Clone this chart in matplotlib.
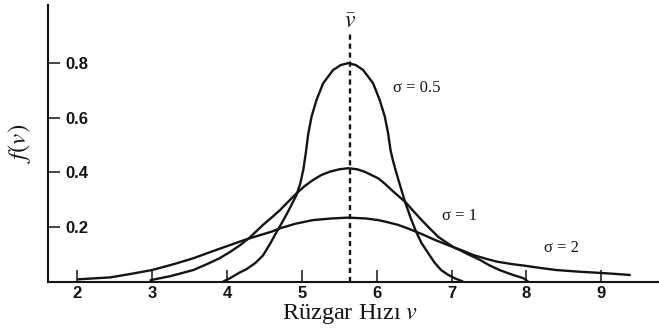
import numpy as np
import matplotlib.pyplot as plt

plt.rcParams['font.family'] = 'Liberation Serif'
plt.rcParams['mathtext.fontset'] = 'stix'

# wind speed (m/s) and density values
v_s05 = [3.95, 4.04, 4.17, 4.26, 4.38, 4.48, 4.58, 4.66, 4.73, 4.80, 4.87, 4.93,
         4.98, 5.02, 5.055, 5.085, 5.13, 5.196, 5.284, 5.418, 5.52, 5.62,
         5.72, 5.818, 5.952, 6.04, 6.108, 6.152, 6.184, 6.22, 6.25, 6.29, 6.38,
         6.46, 6.53, 6.60, 6.69, 6.77, 6.86, 6.95, 7.04, 7.15]
f_s05 = [0.0, 0.012, 0.033, 0.045, 0.068, 0.095, 0.14, 0.18, 0.213, 0.248, 0.285, 0.318,
         0.36, 0.41, 0.475, 0.54, 0.604, 0.665, 0.726, 0.775, 0.793, 0.80,
         0.793, 0.775, 0.726, 0.665, 0.604, 0.543, 0.482, 0.44, 0.41, 0.372, 0.29,
         0.228, 0.18, 0.14, 0.103, 0.07, 0.042, 0.025, 0.012, 0.0]

v_s1 = [2.98, 3.25, 3.55, 3.72, 3.90, 4.04, 4.17, 4.30, 4.48, 4.60, 4.71, 4.82,
        4.93, 5.04, 5.15, 5.26, 5.37, 5.50, 5.62, 5.74, 5.84, 5.93, 6.02, 6.11,
        6.20, 6.29, 6.38, 6.49, 6.60, 6.71, 6.82, 6.92, 7.03, 7.11, 7.24, 7.38,
        7.50, 7.64, 7.80, 7.96, 8.02]
f_s1 = [0.005, 0.02, 0.042, 0.062, 0.085, 0.108, 0.132, 0.16, 0.207, 0.235, 0.262, 0.293,
        0.323, 0.35, 0.372, 0.39, 0.402, 0.411, 0.415, 0.411, 0.402, 0.39, 0.378, 0.358,
        0.335, 0.313, 0.292, 0.258, 0.225, 0.194, 0.164, 0.145, 0.125, 0.115, 0.097, 0.079,
        0.06, 0.042, 0.026, 0.012, 0.0]

v_s2 = [2.01, 2.44, 2.70, 3.00, 3.27, 3.55, 3.85, 4.17, 4.30, 4.48, 4.60, 4.71,
        4.92, 5.15, 5.40, 5.62, 5.85, 6.02, 6.15, 6.29, 6.41, 6.53, 6.65, 6.78,
        6.90, 7.03, 7.15, 7.29, 7.45, 7.60, 7.80, 8.00, 8.20, 8.40, 8.70, 9.07, 9.38]
f_s2 = [0.008, 0.015, 0.027, 0.042, 0.062, 0.085, 0.115, 0.146, 0.158, 0.173, 0.183, 0.195,
        0.212, 0.225, 0.231, 0.234, 0.231, 0.225, 0.217, 0.207, 0.195, 0.182, 0.168, 0.152,
        0.139, 0.125, 0.113, 0.097, 0.084, 0.073, 0.064, 0.057, 0.049, 0.042, 0.036, 0.03, 0.024]

mean_speed = 5.64
mean_line_top = 0.915

sigma_labels = ['σ = 0.5', 'σ = 1', 'σ = 2']
label_pos = [(6.535, 0.709), (7.10, 0.24), (8.47, 0.123)]

x_ticks = [2, 3, 4, 5, 6, 7, 8, 9]
y_ticks = [0.2, 0.4, 0.6, 0.8]

W, H = 659, 336
fig = plt.figure(figsize=(W / 100, H / 100), dpi=100)
ax = fig.add_axes([48 / W, (H - 281.5) / H, (W - 48) / W, (281.5 - 5) / H])

ink = '#141414'
for v, f in [(v_s05, f_s05), (v_s1, f_s1), (v_s2, f_s2)]:
    ax.plot(v, f, color=ink, lw=1.7, solid_capstyle='round', solid_joinstyle='round')

ax.plot([mean_speed, mean_speed], [0, mean_line_top], color=ink, lw=1.7,
        linestyle=(0, (2.2, 1.6)))
ax.text(mean_speed, 0.95, r'$\bar{v}$', ha='center', va='center', fontsize=17, color=ink)

for txt, (x, y) in zip(sigma_labels, label_pos):
    ax.text(x, y, txt, ha='center', va='center', fontsize=12, color=ink)

ax.set_xlim(1.61, 9.77)
ax.set_ylim(0, 1.013)
for side in ['top', 'right']:
    ax.spines[side].set_visible(False)
for side in ['left', 'bottom']:
    ax.spines[side].set_linewidth(1.5)
    ax.spines[side].set_color(ink)

ax.set_xticks(x_ticks)
ax.set_xticklabels([str(t) for t in x_ticks])
ax.set_yticks(y_ticks)
ax.set_yticklabels([f'{t:.1f}' for t in y_ticks])
ax.tick_params(axis='both', direction='in', length=8.5, width=1.1, color=ink,
               labelcolor=ink, labelsize=12)
ax.tick_params(axis='x', pad=3.5)
ax.tick_params(axis='y', pad=-12.2)
for lab in ax.get_xticklabels() + ax.get_yticklabels():
    lab.set_fontfamily('Liberation Sans')
    lab.set_fontweight('bold')
for lab in ax.get_yticklabels():
    lab.set_ha('left')

ax.set_xlabel('Rüzgar Hızı $v$', fontsize=17.5, color=ink)
ax.xaxis.set_label_coords(0.494, -0.075)
ax.set_ylabel('$f(v)$', fontsize=18, color=ink)
ax.yaxis.set_label_coords(-0.024, 0.5)

fig.savefig('out.png', dpi=100)
